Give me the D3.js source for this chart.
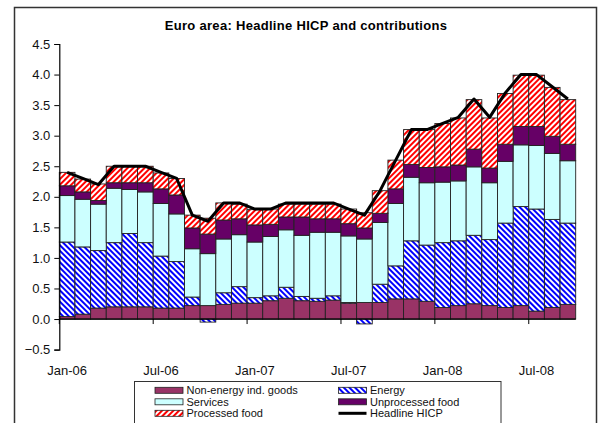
<!DOCTYPE html>
<html>
<head>
<meta charset="utf-8">
<script src="https://cdn.jsdelivr.net/npm/d3@7/dist/d3.min.js"></script>
<style>
  html, body { margin: 0; padding: 0; background: #fff; }
  svg { display: block; font-family: Arial, "Liberation Sans", sans-serif; }
</style>
</head>
<body>
<svg id="chart" width="598" height="423"></svg>
<script>
const months = ["Jan-06","Feb-06","Mar-06","Apr-06","May-06","Jun-06","Jul-06","Aug-06","Sep-06","Oct-06","Nov-06","Dec-06",
  "Jan-07","Feb-07","Mar-07","Apr-07","May-07","Jun-07","Jul-07","Aug-07","Sep-07","Oct-07","Nov-07","Dec-07",
  "Jan-08","Feb-08","Mar-08","Apr-08","May-08","Jun-08","Jul-08","Aug-08","Sep-08"];
const tickLabels = ["Jan-06","Jul-06","Jan-07","Jul-07","Jan-08","Jul-08"];
const yTicks = [-0.5,0.0,0.5,1.0,1.5,2.0,2.5,3.0,3.5,4.0,4.5];

const nonEnergy = [0.04,0.08,0.18,0.20,0.20,0.20,0.18,0.18,0.22,0.22,0.24,0.26,0.26,0.30,0.34,0.30,0.29,0.31,0.26,0.27,0.27,0.33,0.33,0.29,0.19,0.22,0.25,0.22,0.19,0.22,0.13,0.19,0.24];
const energy    = [1.22,1.10,0.94,1.05,1.20,1.05,0.85,0.76,0.14,-0.05,0.19,0.27,0.09,0.08,0.18,0.07,0.05,0.07,0.01,-0.08,0.30,0.54,0.95,0.92,1.06,1.06,1.12,1.08,1.38,1.62,1.67,1.44,1.33];
const services  = [0.76,0.78,0.76,0.89,0.72,0.83,0.86,0.78,0.79,0.85,0.88,0.85,0.91,0.97,0.94,1.00,1.08,1.04,1.09,1.04,1.01,1.02,1.04,1.02,0.99,0.98,1.12,0.93,1.01,1.01,1.04,1.08,1.02];
const unprocessed = [0.16,0.12,0.06,0.09,0.11,0.15,0.24,0.31,0.34,0.32,0.31,0.26,0.28,0.20,0.21,0.30,0.22,0.22,0.20,0.18,0.15,0.24,0.21,0.25,0.25,0.26,0.29,0.24,0.28,0.30,0.31,0.28,0.27];
const processed = [0.22,0.21,0.27,0.27,0.27,0.27,0.26,0.27,0.21,0.26,0.28,0.24,0.25,0.25,0.21,0.21,0.24,0.24,0.24,0.25,0.37,0.47,0.57,0.62,0.71,0.77,0.81,0.82,0.83,0.84,0.84,0.80,0.73];
const headline  = [2.4,2.3,2.2,2.5,2.5,2.5,2.4,2.3,1.7,1.6,1.9,1.9,1.8,1.8,1.9,1.9,1.9,1.9,1.8,1.7,2.1,2.6,3.1,3.1,3.2,3.3,3.6,3.3,3.7,4.0,4.0,3.8,3.6];

const seriesNames = ["Non-energy ind. goods","Energy","Services","Unprocessed food","Processed food"];
const seriesKeys = ["nonEnergy","energy","services","unprocessed","processed"];
const seriesFill = ["#993366","url(#hatchBlue)","#CCFFFF","#660066","url(#hatchRed)"];

const table = months.map((m,i)=>({month:m, nonEnergy:nonEnergy[i], energy:energy[i], services:services[i], unprocessed:unprocessed[i], processed:processed[i]}));

const svg = d3.select("#chart");
const defs = svg.append("defs");
function hatch(id, color, angle){
  const p = defs.append("pattern").attr("id", id).attr("patternUnits","userSpaceOnUse")
    .attr("width", 4).attr("height", 4).attr("patternTransform", `rotate(${angle})`);
  p.append("rect").attr("width",4).attr("height",4).attr("fill","#fff");
  p.append("rect").attr("width",2).attr("height",4).attr("fill",color);
}
hatch("hatchBlue","#0000FF",-45);
hatch("hatchRed","#FF0000",45);

// outer frame
svg.append("rect").attr("x",14.5).attr("y",7.5).attr("width",582).attr("height",440)
  .attr("fill","none").attr("stroke","#333").attr("stroke-width",1.5);

const x = d3.scaleBand().domain(months).range([59.3, 575.7]).padding(0);
const y = d3.scaleLinear().domain([-0.5,4.5]).range([349.6, 44]);

svg.append("text").attr("x",306).attr("y",30).attr("text-anchor","middle")
  .attr("font-weight","bold").attr("font-size","13px").attr("letter-spacing","0.3px").attr("fill","#000")
  .text("Euro area: Headline HICP and contributions");

const stack = d3.stack().keys(seriesKeys).offset(d3.stackOffsetDiverging);
const layers = stack(table);

const g = svg.append("g");
layers.forEach((layer, k) => {
  g.selectAll(null).data(layer).enter().append("rect")
    .attr("x", d => x(d.data.month))
    .attr("width", x.bandwidth())
    .attr("y", d => y(Math.max(d[0], d[1])))
    .attr("height", d => Math.abs(y(d[0]) - y(d[1])))
    .attr("fill", seriesFill[k])
    .attr("stroke", "#222")
    .attr("stroke-width", 0.9);
});

// y axis
const yAxis = d3.axisLeft(y).tickValues(yTicks).tickFormat(d3.format(".1f")).tickSize(5).tickPadding(4);
const yg = svg.append("g").attr("transform","translate(59.3,0)").call(yAxis);
yg.select(".domain").attr("stroke","#000").attr("stroke-width",1.2);
yg.selectAll(".tick line").attr("stroke","#000");
yg.selectAll(".tick text").attr("font-size","13px").attr("fill","#111")
  .attr("font-family","Arial, 'Liberation Sans', sans-serif");

// x axis at zero
const zeroY = y(0);
svg.append("line").attr("x1",59.3).attr("x2",575.7).attr("y1",zeroY).attr("y2",zeroY)
  .attr("stroke","#000").attr("stroke-width",1.2);
const tickIdx = [0,6,12,18,24,30];
svg.selectAll(".xt").data(tickIdx).enter().append("line")
  .attr("x1", i => x(months[i])).attr("x2", i => x(months[i]))
  .attr("y1", zeroY).attr("y2", zeroY + 5).attr("stroke","#000");
svg.selectAll(".xl").data(tickLabels).enter().append("text")
  .attr("x", d => x(d) + x.bandwidth()/2)
  .attr("y", 375).attr("text-anchor","middle").attr("font-size","13px").attr("fill","#111")
  .text(d => d);

// headline line
const line = d3.line().x((d,i)=> x(months[i]) + x.bandwidth()/2).y(d => y(d));
svg.append("path").datum(headline).attr("d", line).attr("fill","none")
  .attr("stroke","#000").attr("stroke-width",3).attr("stroke-linejoin","round");

// legend
const lg = svg.append("g");
lg.append("rect").attr("x",134.5).attr("y",381.5).attr("width",366.5).attr("height",60)
  .attr("fill","#fff").attr("stroke","#333").attr("stroke-width",1);
const legendItems = [
  {name:seriesNames[0], fill:seriesFill[0], col:0, row:0},
  {name:seriesNames[2], fill:seriesFill[2], col:0, row:1},
  {name:seriesNames[4], fill:seriesFill[4], col:0, row:2},
  {name:seriesNames[1], fill:seriesFill[1], col:1, row:0},
  {name:seriesNames[3], fill:seriesFill[3], col:1, row:1},
  {name:"Headline HICP", line:true, col:1, row:2}
];
const colX = [155, 338.5];
const rowY = [390.3, 401.8, 413.3];
legendItems.forEach(it => {
  const sx = colX[it.col], cy = rowY[it.row];
  if (it.line) {
    lg.append("line").attr("x1",sx).attr("x2",sx+28).attr("y1",cy).attr("y2",cy)
      .attr("stroke","#000").attr("stroke-width",3);
  } else {
    lg.append("rect").attr("x",sx).attr("y",cy-3).attr("width",28).attr("height",6)
      .attr("fill",it.fill).attr("stroke","#222").attr("stroke-width",0.8);
  }
  lg.append("text").attr("x", sx+31.5).attr("y", cy+4).attr("font-size","11px").attr("fill","#111")
    .text(it.name);
});
</script>
</body>
</html>
